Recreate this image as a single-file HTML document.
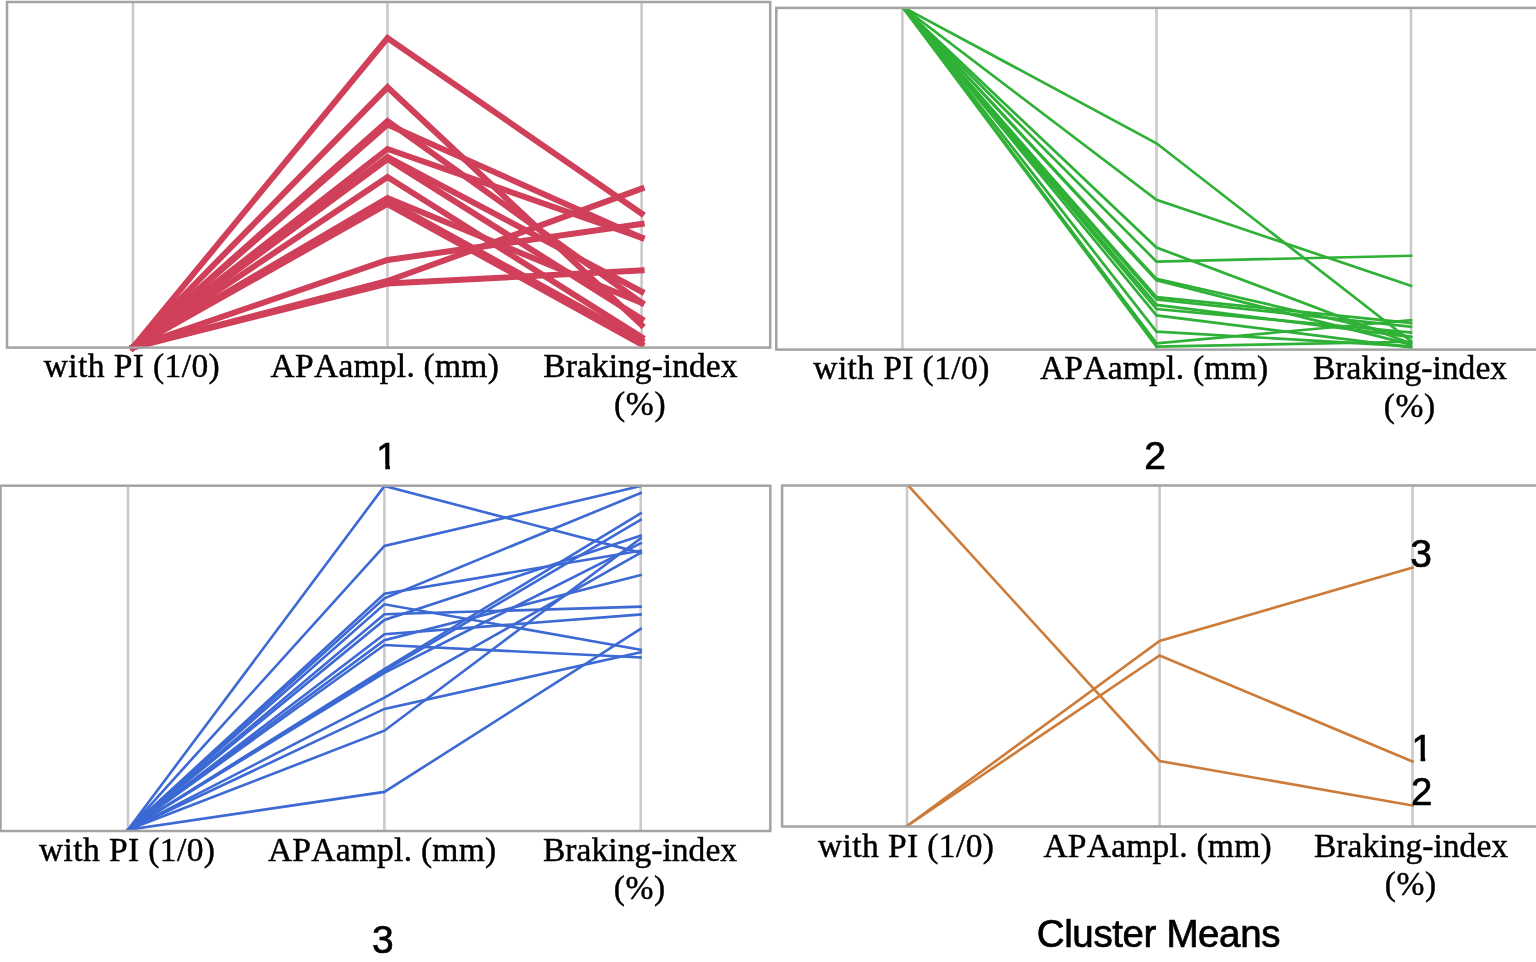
<!DOCTYPE html><html><head><meta charset="utf-8"><title>Cluster parallel plots</title>
<style>html,body{margin:0;padding:0;background:#fff}svg{display:block}.se{font-kerning:none;font-family:"Liberation Serif",serif;font-size:33.5px;fill:#000;stroke:#000;stroke-width:0.45px}.sa{font-family:"Liberation Sans",sans-serif;font-size:37.5px;fill:#000;stroke:#000;stroke-width:0.7px}</style></head><body>
<svg width="1536" height="962" viewBox="0 0 1536 962">
<rect width="1536" height="962" fill="#fff"/>
<line x1="133.0" y1="2.0" x2="133.0" y2="347.6" stroke="#cacaca" stroke-width="2.6"/>
<line x1="387.5" y1="2.0" x2="387.5" y2="347.6" stroke="#cacaca" stroke-width="2.6"/>
<line x1="641.6" y1="2.0" x2="641.6" y2="347.6" stroke="#cacaca" stroke-width="2.6"/>
<polyline points="133.0,347.4 387.5,38.0 641.6,213.6" fill="none" stroke="#d0405a" stroke-width="6" stroke-linejoin="miter" stroke-linecap="square"/>
<polyline points="133.0,347.4 387.5,87.3 641.6,325.1" fill="none" stroke="#d0405a" stroke-width="6" stroke-linejoin="miter" stroke-linecap="square"/>
<polyline points="133.0,347.4 387.5,121.0 641.6,302.8" fill="none" stroke="#d0405a" stroke-width="6" stroke-linejoin="miter" stroke-linecap="square"/>
<polyline points="133.0,347.4 387.5,124.5 641.6,237.7" fill="none" stroke="#d0405a" stroke-width="6" stroke-linejoin="miter" stroke-linecap="square"/>
<polyline points="133.0,347.4 387.5,149.0 641.6,237.7" fill="none" stroke="#d0405a" stroke-width="6" stroke-linejoin="miter" stroke-linecap="square"/>
<polyline points="133.0,347.4 387.5,157.0 641.6,291.6" fill="none" stroke="#d0405a" stroke-width="6" stroke-linejoin="miter" stroke-linecap="square"/>
<polyline points="133.0,347.4 387.5,159.0 641.6,319.0" fill="none" stroke="#d0405a" stroke-width="6" stroke-linejoin="miter" stroke-linecap="square"/>
<polyline points="133.0,347.4 387.5,177.0 641.6,337.3" fill="none" stroke="#d0405a" stroke-width="6" stroke-linejoin="miter" stroke-linecap="square"/>
<polyline points="133.0,347.4 387.5,198.0 641.6,302.8" fill="none" stroke="#d0405a" stroke-width="6" stroke-linejoin="miter" stroke-linecap="square"/>
<polyline points="133.0,347.4 387.5,201.0 641.6,340.6" fill="none" stroke="#d0405a" stroke-width="6" stroke-linejoin="miter" stroke-linecap="square"/>
<polyline points="133.0,347.4 387.5,204.0 641.6,344.4" fill="none" stroke="#d0405a" stroke-width="6" stroke-linejoin="miter" stroke-linecap="square"/>
<polyline points="133.0,347.4 387.5,260.0 641.6,224.0" fill="none" stroke="#d0405a" stroke-width="6" stroke-linejoin="miter" stroke-linecap="square"/>
<polyline points="133.0,347.4 387.5,281.0 641.6,188.7" fill="none" stroke="#d0405a" stroke-width="6" stroke-linejoin="miter" stroke-linecap="square"/>
<polyline points="133.0,347.4 387.5,283.5 641.6,270.3" fill="none" stroke="#d0405a" stroke-width="6" stroke-linejoin="miter" stroke-linecap="square"/>
<rect x="7.0" y="2.0" width="763.2" height="345.6" fill="none" stroke="#a3a3a3" stroke-width="2.5"/>
<text class="se" x="131.7" y="377.1" text-anchor="middle" textLength="176.0" lengthAdjust="spacing">with PI (1/0)</text>
<text class="se" x="384.7" y="377.1" text-anchor="middle" textLength="228.2" lengthAdjust="spacing">APAampl. (mm)</text>
<text class="se" x="640.4" y="377.1" text-anchor="middle" textLength="194.2" lengthAdjust="spacing">Braking-index</text>
<text class="se" x="639.8" y="415.1" text-anchor="middle" textLength="51.5" lengthAdjust="spacing">(%)</text>
<clipPath id="c1_1" clipPathUnits="userSpaceOnUse"><polygon points="374.2,431.3 399.3,431.3 399.3,464.3 389.9,464.3 389.9,470.8 385.3,470.8 385.3,464.3 374.2,464.3"/></clipPath>
<text class="sa" style="font-size:37.5px" clip-path="url(#c1_1)" x="376.2" y="468.8">1</text>
<line x1="902.4" y1="7.9" x2="902.4" y2="349.6" stroke="#cacaca" stroke-width="2.6"/>
<line x1="1156.5" y1="7.9" x2="1156.5" y2="349.6" stroke="#cacaca" stroke-width="2.6"/>
<line x1="1411.0" y1="7.9" x2="1411.0" y2="349.6" stroke="#cacaca" stroke-width="2.6"/>
<clipPath id="cp_2" clipPathUnits="userSpaceOnUse"><rect x="774.3" y="7.50" width="772.7" height="361.7"/></clipPath>
<g clip-path="url(#cp_2)">
<polyline points="902.4,6.8 1156.5,143.3 1411.0,341.2" fill="none" stroke="#2fb036" stroke-width="2.7" stroke-linejoin="miter" stroke-linecap="square"/>
<polyline points="902.4,6.8 1156.5,199.8 1411.0,285.8" fill="none" stroke="#2fb036" stroke-width="2.7" stroke-linejoin="miter" stroke-linecap="square"/>
<polyline points="902.4,6.8 1156.5,247.5 1411.0,343.5" fill="none" stroke="#2fb036" stroke-width="2.7" stroke-linejoin="miter" stroke-linecap="square"/>
<polyline points="902.4,6.8 1156.5,261.6 1411.0,255.8" fill="none" stroke="#2fb036" stroke-width="2.7" stroke-linejoin="miter" stroke-linecap="square"/>
<polyline points="902.4,6.8 1156.5,278.9 1411.0,336.9" fill="none" stroke="#2fb036" stroke-width="2.7" stroke-linejoin="miter" stroke-linecap="square"/>
<polyline points="902.4,6.8 1156.5,280.4 1411.0,344.5" fill="none" stroke="#2fb036" stroke-width="2.7" stroke-linejoin="miter" stroke-linecap="square"/>
<polyline points="902.4,6.8 1156.5,297.2 1411.0,323.0" fill="none" stroke="#2fb036" stroke-width="2.7" stroke-linejoin="miter" stroke-linecap="square"/>
<polyline points="902.4,6.8 1156.5,299.5 1411.0,326.8" fill="none" stroke="#2fb036" stroke-width="2.7" stroke-linejoin="miter" stroke-linecap="square"/>
<polyline points="902.4,6.8 1156.5,304.9 1411.0,336.9" fill="none" stroke="#2fb036" stroke-width="2.7" stroke-linejoin="miter" stroke-linecap="square"/>
<polyline points="902.4,6.8 1156.5,309.0 1411.0,332.5" fill="none" stroke="#2fb036" stroke-width="2.7" stroke-linejoin="miter" stroke-linecap="square"/>
<polyline points="902.4,6.8 1156.5,315.4 1411.0,347.5" fill="none" stroke="#2fb036" stroke-width="2.7" stroke-linejoin="miter" stroke-linecap="square"/>
<polyline points="902.4,6.8 1156.5,331.6 1411.0,346.3" fill="none" stroke="#2fb036" stroke-width="2.7" stroke-linejoin="miter" stroke-linecap="square"/>
<polyline points="902.4,6.8 1156.5,343.4 1411.0,320.1" fill="none" stroke="#2fb036" stroke-width="2.7" stroke-linejoin="miter" stroke-linecap="square"/>
<polyline points="902.4,6.8 1156.5,346.6 1411.0,341.8" fill="none" stroke="#2fb036" stroke-width="2.7" stroke-linejoin="miter" stroke-linecap="square"/>
</g>
<rect x="776.3" y="7.9" width="768.7" height="341.7" fill="none" stroke="#a3a3a3" stroke-width="2.5"/>
<text class="se" x="901.3" y="378.8" text-anchor="middle" textLength="176.0" lengthAdjust="spacing">with PI (1/0)</text>
<text class="se" x="1154.0" y="378.8" text-anchor="middle" textLength="228.2" lengthAdjust="spacing">APAampl. (mm)</text>
<text class="se" x="1410.0" y="378.8" text-anchor="middle" textLength="194.2" lengthAdjust="spacing">Braking-index</text>
<text class="se" x="1409.4" y="416.8" text-anchor="middle" textLength="51.5" lengthAdjust="spacing">(%)</text>
<text class="sa" x="1155.0" y="469.0" text-anchor="middle" style="font-size:39px">2</text>
<line x1="128.0" y1="485.7" x2="128.0" y2="831.0" stroke="#cacaca" stroke-width="2.6"/>
<line x1="384.4" y1="485.7" x2="384.4" y2="831.0" stroke="#cacaca" stroke-width="2.6"/>
<line x1="640.7" y1="485.7" x2="640.7" y2="831.0" stroke="#cacaca" stroke-width="2.6"/>
<polyline points="128.0,829.8 384.4,486.1 640.7,552.8" fill="none" stroke="#3c69d3" stroke-width="2.6" stroke-linejoin="miter" stroke-linecap="square"/>
<polyline points="128.0,829.8 384.4,546.0 640.7,486.1" fill="none" stroke="#3c69d3" stroke-width="2.6" stroke-linejoin="miter" stroke-linecap="square"/>
<polyline points="128.0,829.8 384.4,593.7 640.7,550.7" fill="none" stroke="#3c69d3" stroke-width="2.6" stroke-linejoin="miter" stroke-linecap="square"/>
<polyline points="128.0,829.8 384.4,598.3 640.7,493.0" fill="none" stroke="#3c69d3" stroke-width="2.6" stroke-linejoin="miter" stroke-linecap="square"/>
<polyline points="128.0,829.8 384.4,604.3 640.7,649.7" fill="none" stroke="#3c69d3" stroke-width="2.6" stroke-linejoin="miter" stroke-linecap="square"/>
<polyline points="128.0,829.8 384.4,614.2 640.7,606.7" fill="none" stroke="#3c69d3" stroke-width="2.6" stroke-linejoin="miter" stroke-linecap="square"/>
<polyline points="128.0,829.8 384.4,620.0 640.7,535.7" fill="none" stroke="#3c69d3" stroke-width="2.6" stroke-linejoin="miter" stroke-linecap="square"/>
<polyline points="128.0,829.8 384.4,634.3 640.7,614.5" fill="none" stroke="#3c69d3" stroke-width="2.6" stroke-linejoin="miter" stroke-linecap="square"/>
<polyline points="128.0,829.8 384.4,640.3 640.7,575.0" fill="none" stroke="#3c69d3" stroke-width="2.6" stroke-linejoin="miter" stroke-linecap="square"/>
<polyline points="128.0,829.8 384.4,645.0 640.7,657.5" fill="none" stroke="#3c69d3" stroke-width="2.6" stroke-linejoin="miter" stroke-linecap="square"/>
<polyline points="128.0,829.8 384.4,669.0 640.7,513.3" fill="none" stroke="#3c69d3" stroke-width="2.6" stroke-linejoin="miter" stroke-linecap="square"/>
<polyline points="128.0,829.8 384.4,670.8 640.7,519.9" fill="none" stroke="#3c69d3" stroke-width="2.6" stroke-linejoin="miter" stroke-linecap="square"/>
<polyline points="128.0,829.8 384.4,672.8 640.7,543.2" fill="none" stroke="#3c69d3" stroke-width="2.6" stroke-linejoin="miter" stroke-linecap="square"/>
<polyline points="128.0,829.8 384.4,697.7 640.7,552.8" fill="none" stroke="#3c69d3" stroke-width="2.6" stroke-linejoin="miter" stroke-linecap="square"/>
<polyline points="128.0,829.8 384.4,708.9 640.7,652.3" fill="none" stroke="#3c69d3" stroke-width="2.6" stroke-linejoin="miter" stroke-linecap="square"/>
<polyline points="128.0,829.8 384.4,730.7 640.7,538.2" fill="none" stroke="#3c69d3" stroke-width="2.6" stroke-linejoin="miter" stroke-linecap="square"/>
<polyline points="128.0,829.8 384.4,791.9 640.7,628.9" fill="none" stroke="#3c69d3" stroke-width="2.6" stroke-linejoin="miter" stroke-linecap="square"/>
<rect x="0.5" y="485.7" width="769.8" height="345.3" fill="none" stroke="#a3a3a3" stroke-width="2.5"/>
<text class="se" x="127.0" y="861.1" text-anchor="middle" textLength="176.0" lengthAdjust="spacing">with PI (1/0)</text>
<text class="se" x="382.0" y="861.1" text-anchor="middle" textLength="228.2" lengthAdjust="spacing">APAampl. (mm)</text>
<text class="se" x="640.0" y="861.1" text-anchor="middle" textLength="194.2" lengthAdjust="spacing">Braking-index</text>
<text class="se" x="639.4" y="899.1" text-anchor="middle" textLength="51.5" lengthAdjust="spacing">(%)</text>
<text class="sa" x="382.8" y="952.6" text-anchor="middle" style="font-size:39px">3</text>
<line x1="907.0" y1="485.5" x2="907.0" y2="826.5" stroke="#cacaca" stroke-width="2.6"/>
<line x1="1159.6" y1="485.5" x2="1159.6" y2="826.5" stroke="#cacaca" stroke-width="2.6"/>
<line x1="1412.5" y1="485.5" x2="1412.5" y2="826.5" stroke="#cacaca" stroke-width="2.6"/>
<clipPath id="cp_3" clipPathUnits="userSpaceOnUse"><rect x="780.1" y="485.10" width="766.9" height="361.0"/></clipPath>
<g clip-path="url(#cp_3)">
<polyline points="907.0,484.2 1159.6,761.0 1412.5,805.5" fill="none" stroke="#cd7b38" stroke-width="2.6" stroke-linejoin="miter" stroke-linecap="square"/>
<polyline points="907.0,826.0 1159.6,641.0 1412.5,567.5" fill="none" stroke="#cd7b38" stroke-width="2.6" stroke-linejoin="miter" stroke-linecap="square"/>
<polyline points="907.0,826.0 1159.6,655.5 1412.5,761.5" fill="none" stroke="#cd7b38" stroke-width="2.6" stroke-linejoin="miter" stroke-linecap="square"/>
</g>
<rect x="782.1" y="485.5" width="762.9" height="341.0" fill="none" stroke="#a3a3a3" stroke-width="2.5"/>
<text class="se" x="906.0" y="856.5" text-anchor="middle" textLength="176.0" lengthAdjust="spacing">with PI (1/0)</text>
<text class="se" x="1157.5" y="856.5" text-anchor="middle" textLength="228.2" lengthAdjust="spacing">APAampl. (mm)</text>
<text class="se" x="1411.0" y="856.5" text-anchor="middle" textLength="194.2" lengthAdjust="spacing">Braking-index</text>
<text class="se" x="1410.4" y="894.5" text-anchor="middle" textLength="51.5" lengthAdjust="spacing">(%)</text>
<text class="sa" x="1158.6" y="946.7" text-anchor="middle" textLength="243.7" lengthAdjust="spacing" style="font-size:38.5px">Cluster Means</text>
<text class="sa" style="font-size:39px" x="1410.2" y="567.0">3</text>
<clipPath id="c1_4" clipPathUnits="userSpaceOnUse"><polygon points="1409.4,723.0 1434.7,723.0 1434.7,756.2 1425.2,756.2 1425.2,762.8 1420.6,762.8 1420.6,756.2 1409.4,756.2"/></clipPath>
<text class="sa" style="font-size:37.8px" clip-path="url(#c1_4)" x="1411.4" y="760.8">1</text>
<text class="sa" style="font-size:38.3px" x="1410.9" y="804.6">2</text>
</svg></body></html>
